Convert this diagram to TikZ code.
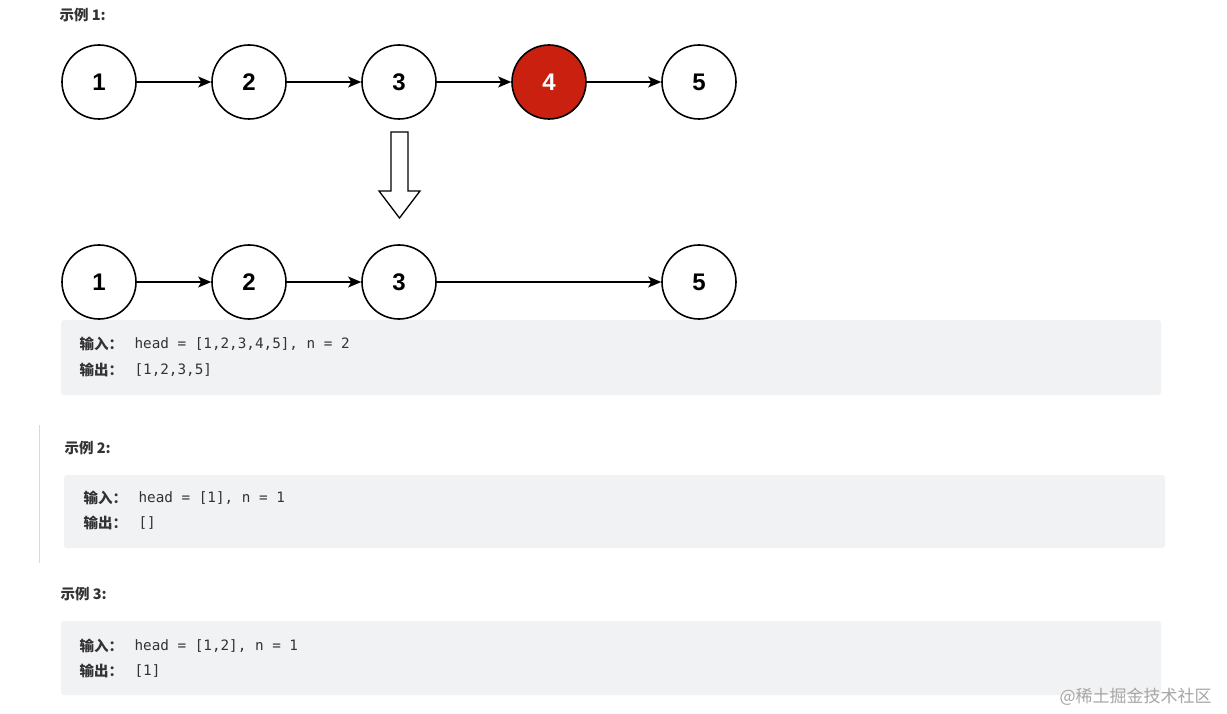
\documentclass[tikz,border=0pt]{standalone}
\usepackage{fontspec}
\setmainfont{Liberation Sans}
\newfontfamily\cjk{Noto Sans CJK SC}
\newfontfamily\mymono{DejaVu Sans Mono}
\definecolor{boxbg}{HTML}{F1F2F4}
\definecolor{red4}{HTML}{C9200F}
\definecolor{txt}{HTML}{333333}
\begin{document}
\begin{tikzpicture}[x=1pt,y=-1pt,
  ln/.style={circle,draw,line width=1.6pt,minimum size=74pt,inner sep=0pt,font=\fontsize{24}{24}\selectfont\bfseries},
  ar/.style={-{Stealth[length=13pt,width=11pt,inset=3pt]},line width=1.4pt},
  box/.style={fill=boxbg,rounded corners=3pt},
  ttl/.style={anchor=west,font=\cjk\fontsize{14.5}{14.5}\selectfont\bfseries,text=txt},
  cd/.style={anchor=west,font=\mymono\fontsize{14.3}{14.3}\selectfont,text=txt}]
\usetikzlibrary{arrows.meta}
\useasboundingbox (0,0) rectangle (1227,714);
\fill[white] (0,0) rectangle (1227,714);
\node[ttl] (t1) at (56,15) {示例 1:};
\foreach \i/\x in {1/99,2/249,3/399,5/699}{\node[ln] (a\i) at (\x,82) {\i};}
\node[ln,fill=red4,text=white] (a4) at (549,82) {4};
\draw[ar] (a1)--(a2); \draw[ar] (a2)--(a3); \draw[ar] (a3)--(a4); \draw[ar] (a4)--(a5);
\draw[line width=1.3pt,fill=white] (391,132)--(408,132)--(408,191)--(420,191)--(399.5,218)--(379,191)--(391,191)--cycle;
\foreach \i/\x in {1/99,2/249,3/399,5/699}{\node[ln] (b\i) at (\x,282) {\i};}
\draw[ar] (b1)--(b2); \draw[ar] (b2)--(b3); \draw[ar] (b3)--(b5);
\fill[box] (61,320) rectangle (1161,395);
\node[ttl] (i1) at (76,344) {输入：};
\node[cd] (c1) at (131,344) {head = [1,2,3,4,5], n = 2};
\node[ttl] (o1) at (76,370) {输出：};
\node[cd] (d1) at (131,370) {[1,2,3,5]};
\draw[gray!30,line width=1pt] (39,425)--(39,563);
\node[ttl] (t2) at (61,448) {示例 2:};
\fill[box] (64,475) rectangle (1165,548);
\node[ttl] (i2) at (80,498) {输入：};
\node[cd] (c2) at (135,498) {head = [1], n = 1};
\node[ttl] (o2) at (80,523) {输出：};
\node[cd] (d2) at (135,523) {[]};
\node[ttl] (t3) at (57,594) {示例 3:};
\fill[box] (61,621) rectangle (1161,695);
\node[ttl] (i3) at (76,646) {输入：};
\node[cd] (c3) at (131,646) {head = [1,2], n = 1};
\node[ttl] (o3) at (76,671) {输出：};
\node[cd] (d3) at (131,671) {[1]};
\node[anchor=west,font=\cjk\fontsize{17}{17}\selectfont,text=gray!70] (wm) at (1056,697) {@稀土掘金技术社区};
\end{tikzpicture}
\end{document}
